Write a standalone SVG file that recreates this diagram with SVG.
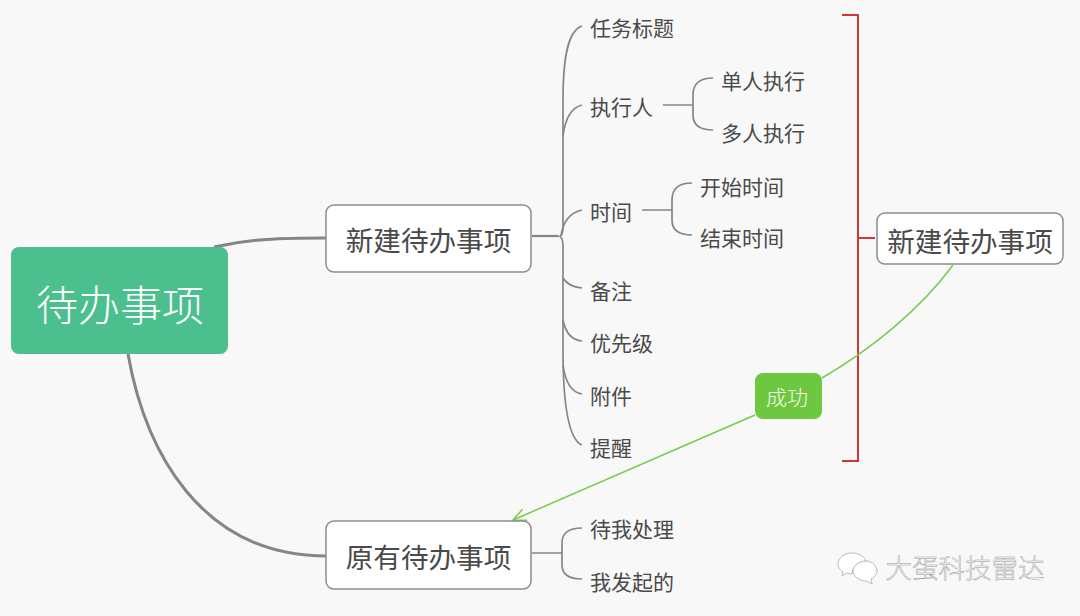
<svg xmlns="http://www.w3.org/2000/svg" width="1080" height="616" viewBox="0 0 1080 616">
<style>
text{font-family:"Noto Sans CJK SC","Noto Sans",sans-serif;fill:#4a4a4a;text-anchor:middle;dominant-baseline:central}
.leaf{font-size:21px;text-anchor:start;font-weight:400}
.big{font-size:27.600px;font-weight:400}
.card{fill:#fff;stroke:#8c8c8c;stroke-width:1.5}
.main{fill:none;stroke:#858585;stroke-width:3}
.br{fill:none;stroke:#858585;stroke-width:1.7}
</style>
<defs><marker id="ah" markerWidth="18" markerHeight="16" refX="15" refY="8" orient="auto" markerUnits="userSpaceOnUse"><path d="M2 2L15 8L2 14" fill="none" stroke="#74cc4c" stroke-width="1.5"/></marker></defs>
<rect width="1080" height="616" fill="#f8f8f8"/>
<g id="connectors">
<path class="main" d="M214 247C250 239 280 238 326 238"/>
<path class="main" d="M128 354C145 450 200 556 326 556"/>
<path class="br" style="stroke-width:2.200" d="M532 236H558"/>
<path class="br" d="M560 236Q563 236 563 226V100C563 50 570 30 582 26"/>
<path class="br" d="M563 136C565 120 570 108 582 105"/>
<path class="br" d="M561 236Q564 214 582 210"/>
<path class="br" d="M558 236Q563 236 563 246V350C563 410 570 440 582 445"/>
<path class="br" d="M563 278C566 283 572 287 582 288"/>
<path class="br" d="M563 320C565 330 570 340 582 341"/>
<path class="br" d="M563 365C565 380 570 392 582 394"/>
<path class="br" d="M663 105H693M693 105V95Q693 78 713 78M693 105V115Q693 130 713 130"/>
<path class="br" d="M642 210H672M672 210V200Q672 183 692 183M672 210V220Q672 235 692 235"/>
<path class="br" d="M532 553H562M562 553V543Q562 528 582 528M562 553V565Q562 579 582 579"/>
<path d="M842 15H858V461H842M858 238H875" fill="none" stroke="#d3343a" stroke-width="2"/>
<path d="M953 265C920 310 870 350 822 378" fill="none" stroke="#74cc4c" stroke-width="1.5"/>
<path d="M755 415L513 520" fill="none" stroke="#74cc4c" stroke-width="1.5" marker-end="url(#ah)"/>
</g>
<g id="root"><rect x="11" y="247" width="217" height="107" rx="8" fill="#4bbf8e"/><text x="120" y="302" style="font-size:42px;font-weight:300;fill:#fff">待办事项</text></g>
<g id="n-new"><rect class="card" x="326" y="205" width="205" height="67" rx="8"/><text class="big" x="428.500" y="239">新建待办事项</text></g>
<g id="n-old"><rect class="card" x="326" y="521" width="205" height="68" rx="8"/><text class="big" x="428.500" y="556">原有待办事项</text></g>
<g id="n-new2"><rect class="card" x="877" y="213" width="186" height="51" rx="8"/><text class="big" x="970" y="240">新建待办事项</text></g>
<g id="n-success"><rect x="755" y="373" width="67" height="46" rx="8" fill="#6ec83f"/><text x="787" y="396" style="font-size:21px;font-weight:300;fill:#f4fbef">成功</text></g>
<g id="leaves">
<text class="leaf" x="590" y="27">任务标题</text>
<text class="leaf" x="590" y="106">执行人</text>
<text class="leaf" x="721" y="80">单人执行</text>
<text class="leaf" x="721" y="132">多人执行</text>
<text class="leaf" x="590" y="211">时间</text>
<text class="leaf" x="700" y="186">开始时间</text>
<text class="leaf" x="700" y="237">结束时间</text>
<text class="leaf" x="590" y="290">备注</text>
<text class="leaf" x="590" y="342">优先级</text>
<text class="leaf" x="590" y="395">附件</text>
<text class="leaf" x="590" y="447">提醒</text>
<text class="leaf" x="590" y="528">待我处理</text>
<text class="leaf" x="590" y="581">我发起的</text>
</g>
<g id="watermark">
<path d="M852 553c-8 0-14 5-14 11 0 4 2 6 5 8l-1 4 5-3c2 0 3 1 5 1 0-7 6-13 14-13-2-5-8-8-14-8z" fill="#fff" stroke="#bbb"/>
<path d="M866 561c-7 0-13 5-13 10s6 10 13 10l6 3-1-5c4-2 6-5 6-8 0-5-5-10-11-10z" fill="#fff" stroke="#bbb"/>
<text x="965" y="566" style="font-size:26.500px;font-weight:300;fill:#fff;stroke:#999;stroke-width:.5">大蛋科技雷达</text>
</g>
</svg>
